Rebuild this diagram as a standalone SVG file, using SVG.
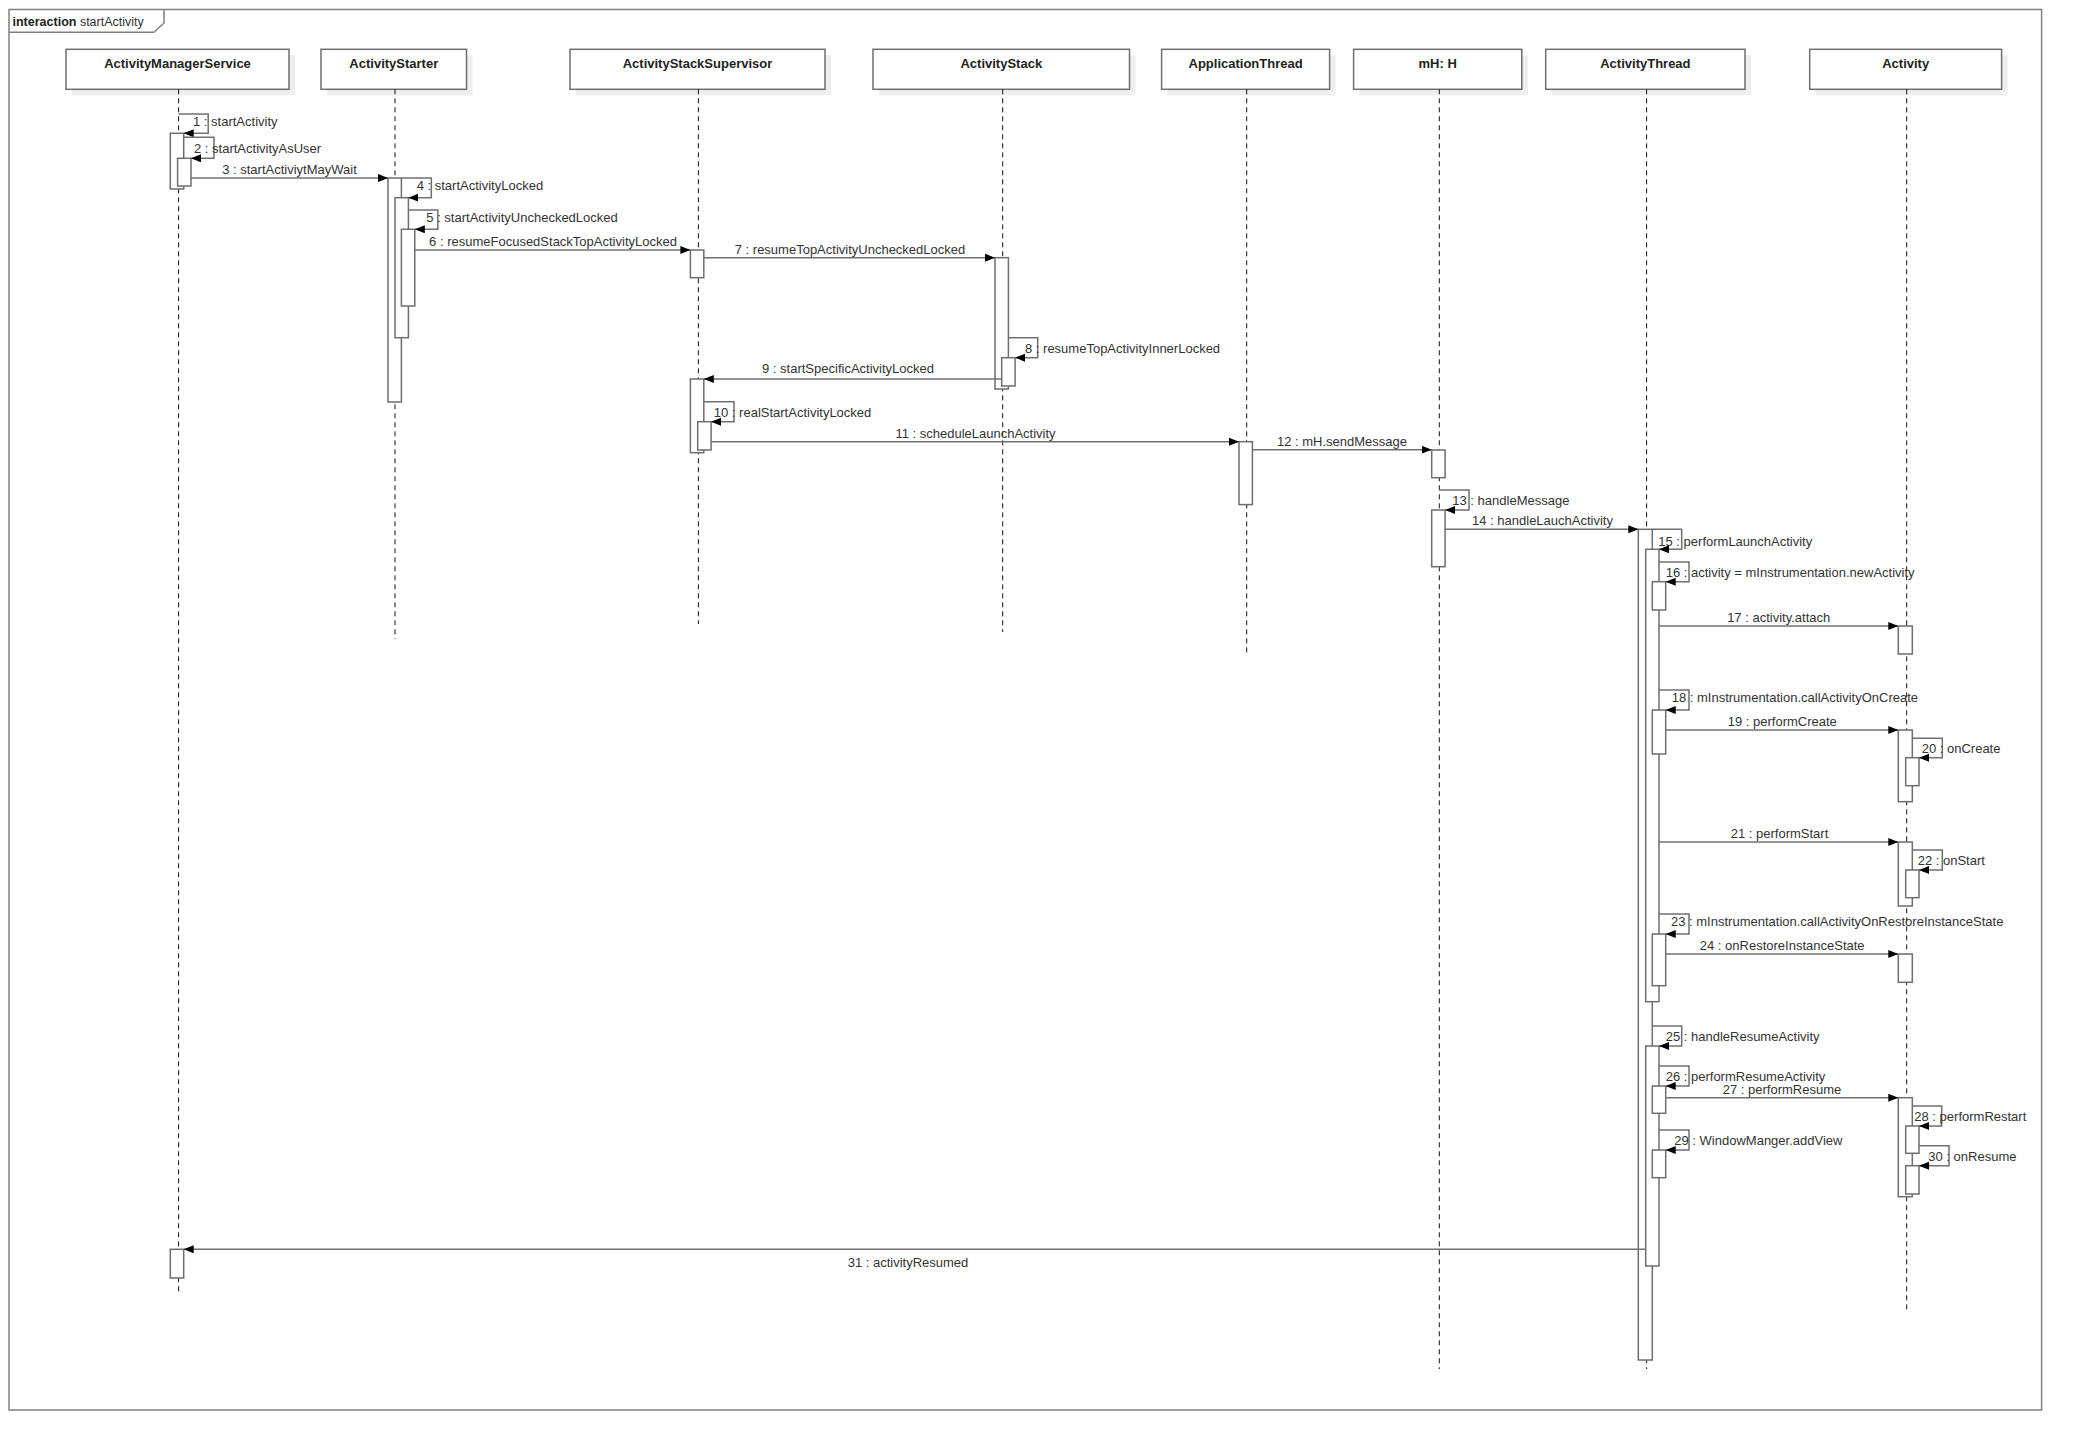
<svg xmlns="http://www.w3.org/2000/svg" width="2082" height="1450" viewBox="0 0 2082 1450">
<style>
text{font-family:"Liberation Sans",Arial,sans-serif;font-size:13px;fill:#333}
.title{font-weight:bold;fill:#222;text-anchor:middle}
.box{fill:#fff;stroke:#6e6e6e;stroke-width:1.5}
.shadow{fill:#efefef}
.life{stroke:#111;stroke-width:1;stroke-dasharray:5,4;fill:none}
.act{fill:#fff;stroke:#6e6e6e;stroke-width:1.5}
.msg{fill:none;stroke:#707070;stroke-width:1.5;marker-end:url(#arr)}
.mid{text-anchor:middle}
.frame{fill:none;stroke:#808080;stroke-width:1.5}
</style>
<defs>
<marker id="arr" markerUnits="userSpaceOnUse" markerWidth="11" markerHeight="9" refX="10" refY="4" orient="auto">
<path d="M0,0 L10,4 L0,8 z" fill="#000"/>
</marker>
</defs>
<rect width="2082" height="1450" fill="#fff"/>
<g id="frame">
<rect class="frame" x="9" y="9.5" width="2032.6" height="1400.5"/>
<path class="frame" d="M9,32.3 H154 L164,23 V9.5"/>
<text x="12.5" y="26" style="font-size:12.5px"><tspan font-weight="bold" fill="#222">interaction</tspan> startActivity</text>
</g>
<g id="ActivityManagerService">
<rect class="shadow" x="72" y="55.3" width="223" height="40"/>
<rect class="box" x="66" y="49.3" width="223" height="40"/>
<text class="title" x="177.5" y="68">ActivityManagerService</text>
<line class="life" x1="178.6" y1="89.3" x2="178.6" y2="1291.7"/>
<rect class="act" x="170.3" y="133.3" width="13.4" height="55.7"/>
<rect class="act" x="177.6" y="158.3" width="13.4" height="27.7"/>
<rect class="act" x="170.3" y="1249.3" width="13.4" height="28.7"/>
</g>
<g id="ActivityStarter">
<rect class="shadow" x="327" y="55.3" width="145.5" height="40"/>
<rect class="box" x="321" y="49.3" width="145.5" height="40"/>
<text class="title" x="393.8" y="68">ActivityStarter</text>
<line class="life" x1="395" y1="89.3" x2="395" y2="639"/>
<rect class="act" x="388" y="178" width="13.4" height="224"/>
<rect class="act" x="395" y="197.7" width="13.4" height="140"/>
<rect class="act" x="401.4" y="229.3" width="13.4" height="76.7"/>
</g>
<g id="ActivityStackSupervisor">
<rect class="shadow" x="576" y="55.3" width="255" height="40"/>
<rect class="box" x="570" y="49.3" width="255" height="40"/>
<text class="title" x="697.5" y="68">ActivityStackSupervisor</text>
<line class="life" x1="698.4" y1="89.3" x2="698.4" y2="624"/>
<rect class="act" x="690.4" y="250" width="13.4" height="27.7"/>
<rect class="act" x="690.4" y="379" width="13.4" height="73.7"/>
<rect class="act" x="697.7" y="421.7" width="13.4" height="28.3"/>
</g>
<g id="ActivityStack">
<rect class="shadow" x="879" y="55.3" width="256.5" height="40"/>
<rect class="box" x="873" y="49.3" width="256.5" height="40"/>
<text class="title" x="1001.3" y="68">ActivityStack</text>
<line class="life" x1="1002.7" y1="89.3" x2="1002.7" y2="632"/>
<rect class="act" x="995" y="257.7" width="13.4" height="131.3"/>
<rect class="act" x="1001.7" y="357.7" width="13.4" height="28.3"/>
</g>
<g id="ApplicationThread">
<rect class="shadow" x="1167.6" y="55.3" width="168" height="40"/>
<rect class="box" x="1161.6" y="49.3" width="168" height="40"/>
<text class="title" x="1245.6" y="68">ApplicationThread</text>
<line class="life" x1="1246.7" y1="89.3" x2="1246.7" y2="656"/>
<rect class="act" x="1239" y="441.7" width="13.4" height="62.9"/>
</g>
<g id="mH">
<rect class="shadow" x="1359.6" y="55.3" width="168.2" height="40"/>
<rect class="box" x="1353.6" y="49.3" width="168.2" height="40"/>
<text class="title" x="1437.7" y="68">mH: H</text>
<line class="life" x1="1439.3" y1="89.3" x2="1439.3" y2="1369"/>
<rect class="act" x="1431.7" y="450" width="13.4" height="27.7"/>
<rect class="act" x="1431.7" y="510" width="13.4" height="56.7"/>
</g>
<g id="ActivityThread">
<rect class="shadow" x="1551.7" y="55.3" width="199.3" height="40"/>
<rect class="box" x="1545.7" y="49.3" width="199.3" height="40"/>
<text class="title" x="1645.4" y="68">ActivityThread</text>
<line class="life" x1="1646.6" y1="89.3" x2="1646.6" y2="1369"/>
<rect class="act" x="1638.3" y="529.3" width="14" height="830.7"/>
<rect class="act" x="1645.7" y="549.3" width="13.3" height="452.4"/>
<rect class="act" x="1652.3" y="581.7" width="13.4" height="28.3"/>
<rect class="act" x="1652.3" y="710" width="13.4" height="44"/>
<rect class="act" x="1652.3" y="934" width="13.4" height="51.7"/>
<rect class="act" x="1645.7" y="1046" width="13.3" height="220"/>
<rect class="act" x="1652.3" y="1086" width="13.4" height="27.3"/>
<rect class="act" x="1652.3" y="1150" width="13.4" height="27.7"/>
</g>
<g id="Activity">
<rect class="shadow" x="1815.7" y="55.3" width="191.9" height="40"/>
<rect class="box" x="1809.7" y="49.3" width="191.9" height="40"/>
<text class="title" x="1905.7" y="68">Activity</text>
<line class="life" x1="1906.7" y1="89.3" x2="1906.7" y2="1311"/>
<rect class="act" x="1898.3" y="626" width="14" height="28"/>
<rect class="act" x="1898.3" y="730" width="14" height="71.7"/>
<rect class="act" x="1905.7" y="757.7" width="13.3" height="28"/>
<rect class="act" x="1898.3" y="842" width="14" height="64"/>
<rect class="act" x="1905.7" y="870" width="13.3" height="27.7"/>
<rect class="act" x="1898.3" y="954" width="14" height="28.3"/>
<rect class="act" x="1898.3" y="1097.7" width="14" height="99"/>
<rect class="act" x="1905.7" y="1126" width="13.3" height="27.3"/>
<rect class="act" x="1905.7" y="1165.7" width="13.3" height="28.3"/>
</g>
<g id="connectors">
<path class="msg" d="M178.6,114 H208.2 V133.3 H183.7"/>
<text x="193" y="126">1 : startActivity</text>
<path class="msg" d="M183.7,137.3 H214 V158.3 H191"/>
<text x="194" y="152.8">2 : startActivityAsUser</text>
<path class="msg" d="M191,178 H388"/>
<text class="mid" x="289.5" y="174">3 : startActiviytMayWait</text>
<path class="msg" d="M401.4,178 H431.3 V197.7 H408.4"/>
<text x="416.7" y="190">4 : startActivityLocked</text>
<path class="msg" d="M408.4,210 H437.8 V229.3 H414.8"/>
<text x="426.3" y="221.8">5 : startActivityUncheckedLocked</text>
<path class="msg" d="M414.8,250 H690.4"/>
<text class="mid" x="553" y="246">6 : resumeFocusedStackTopActivityLocked</text>
<path class="msg" d="M703.8,257.7 H995"/>
<text class="mid" x="850" y="253.7">7 : resumeTopActivityUncheckedLocked</text>
<path class="msg" d="M1008.4,337.7 H1037.7 V357.7 H1015.1"/>
<text x="1025" y="352.8">8 : resumeTopActivityInnerLocked</text>
<path class="msg" d="M1001.7,379 H703.8"/>
<text class="mid" x="848" y="372.7">9 : startSpecificActivityLocked</text>
<path class="msg" d="M703.8,401.7 H734 V421.7 H711.1"/>
<text x="713.8" y="417">10 : realStartActivityLocked</text>
<path class="msg" d="M711.1,441.7 H1239"/>
<text class="mid" x="975.5" y="437.7">11 : scheduleLaunchActivity</text>
<path class="msg" d="M1252.4,449.7 H1431.7"/>
<text class="mid" x="1342" y="445.7">12 : mH.sendMessage</text>
<path class="msg" d="M1439.3,490 H1469 V510 H1445.1"/>
<text x="1452.3" y="505">13 : handleMessage</text>
<path class="msg" d="M1445.1,529.3 H1638.3"/>
<text class="mid" x="1542.5" y="525.3">14 : handleLauchActivity</text>
<path class="msg" d="M1652.3,529.3 H1681.7 V549.3 H1659"/>
<text x="1658.3" y="545.5">15 : performLaunchActivity</text>
<path class="msg" d="M1659,562 H1689 V581.7 H1665.7"/>
<text x="1665.7" y="577">16 : activity = mInstrumentation.newActivity</text>
<path class="msg" d="M1659,626 H1898.3"/>
<text class="mid" x="1778.7" y="622">17 : activity.attach</text>
<path class="msg" d="M1659,690 H1689 V710 H1665.7"/>
<text x="1671.7" y="701.8">18 : mInstrumentation.callActivityOnCreate</text>
<path class="msg" d="M1665.7,730 H1898.3"/>
<text class="mid" x="1782.3" y="726">19 : performCreate</text>
<path class="msg" d="M1912.3,738.3 H1942.3 V757.7 H1919"/>
<text x="1921.7" y="752.8">20 : onCreate</text>
<path class="msg" d="M1659,842 H1898.3"/>
<text class="mid" x="1779.5" y="838">21 : performStart</text>
<path class="msg" d="M1912.3,850 H1942.3 V870 H1919"/>
<text x="1917.7" y="864.5">22 : onStart</text>
<path class="msg" d="M1659,914 H1689 V934 H1665.7"/>
<text x="1671" y="925.5">23 : mInstrumentation.callActivityOnRestoreInstanceState</text>
<path class="msg" d="M1665.7,954 H1898.3"/>
<text class="mid" x="1782.2" y="950">24 : onRestoreInstanceState</text>
<path class="msg" d="M1652.3,1026 H1681.7 V1046 H1659"/>
<text x="1665.7" y="1041">25 : handleResumeActivity</text>
<path class="msg" d="M1659,1066 H1689 V1086 H1665.7"/>
<text x="1665.7" y="1081">26 : performResumeActivity</text>
<path class="msg" d="M1665.7,1097.7 H1898.3"/>
<text class="mid" x="1782" y="1093.7">27 : performResume</text>
<path class="msg" d="M1912.3,1106 H1941.7 V1126 H1919"/>
<text x="1914.3" y="1121">28 : performRestart</text>
<path class="msg" d="M1659,1130 H1689 V1150 H1665.7"/>
<text x="1674.3" y="1144.5">29 : WindowManger.addView</text>
<path class="msg" d="M1919,1145.7 H1949 V1165.7 H1919"/>
<text x="1928.3" y="1161">30 : onResume</text>
<path class="msg" d="M1645.7,1249.3 H183.7"/>
<text class="mid" x="908" y="1266.5">31 : activityResumed</text>
</g>
</svg>
